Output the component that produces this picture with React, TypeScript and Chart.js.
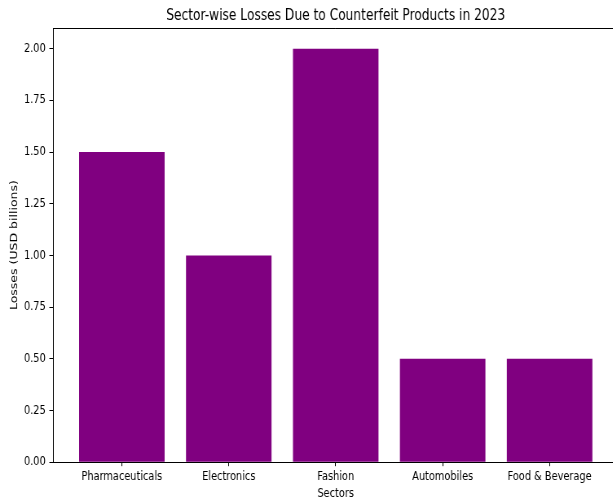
import React, { useEffect, useRef } from "react";
import { Chart, registerables } from "chart.js";

Chart.register(...registerables);

const sectors = ["Pharmaceuticals", "Electronics", "Fashion", "Automobiles", "Food & Beverage"];
const losses = [1.5, 1.0, 2.0, 0.5, 0.5];
const yTickValues = [0, 0.25, 0.5, 0.75, 1.0, 1.25, 1.5, 1.75, 2.0];
const titleText = "Sector-wise Losses Due to Counterfeit Products in 2023";
const xTitle = "Sectors";
const yTitle = "Losses (USD billions)";

const FONT = '"DejaVu Sans", sans-serif';
const SQUEEZE = 0.815;
const CANVAS_W = 780;
const CANVAS_H = 501;

const frame = {
  id: "frame",
  afterDraw(chart: any) {
    const { ctx, chartArea } = chart;
    ctx.save();
    ctx.strokeStyle = "#000";
    ctx.lineWidth = 1;
    ctx.beginPath();
    ctx.moveTo(chartArea.left, Math.round(chartArea.top) + 0.5);
    ctx.lineTo(chartArea.right, Math.round(chartArea.top) + 0.5);
    ctx.moveTo(Math.round(chartArea.right) + 0.5, chartArea.top);
    ctx.lineTo(Math.round(chartArea.right) + 0.5, chartArea.bottom);
    ctx.stroke();
    // title centred over the plot area
    ctx.fillStyle = "#000";
    ctx.font = `15px ${FONT}`;
    ctx.textAlign = "center";
    ctx.textBaseline = "middle";
    ctx.fillText(titleText, (chartArea.left + chartArea.right) / 2, chartArea.top - 12);
    ctx.restore();
  },
};

export default function App() {
  const ref = useRef<HTMLCanvasElement>(null);
  useEffect(() => {
    if (!ref.current) return;
    const chart = new Chart(ref.current, {
      type: "bar",
      data: {
        datasets: [
          {
            data: losses.map((v, i) => ({ x: i, y: v })),
            backgroundColor: "#800080",
            borderWidth: 0,
            categoryPercentage: 1,
            barPercentage: 0.8,
          },
        ],
      },
      options: {
        responsive: false,
        animation: false,
        layout: { padding: { left: 3, right: 21.7, top: 28, bottom: 0 } },
        plugins: {
          legend: { display: false },
          tooltip: { enabled: false },
          title: { display: false },
        },
        scales: {
          x: {
            type: "linear",
            offset: false,
            min: -0.64,
            max: 4.64,
            afterBuildTicks: (scale: any) => {
              scale.ticks = sectors.map((_, i) => ({ value: i }));
            },
            ticks: {
              autoSkip: false,
              maxRotation: 0,
              color: "#000",
              padding: 3,
              font: { family: FONT, size: 12 },
              callback: (v: any) => sectors[v] ?? "",
            },
            grid: { offset: false, drawOnChartArea: false, drawTicks: true, tickLength: 4, color: "#000" },
            border: { color: "#000", width: 1 },
            title: {
              display: true,
              text: xTitle,
              color: "#000",
              font: { family: FONT, size: 12 },
              padding: { top: 0, bottom: 0 },
            },
          },
          y: {
            type: "linear",
            min: 0,
            max: 2.1,
            afterBuildTicks: (scale: any) => {
              scale.ticks = yTickValues.map((v) => ({ value: v }));
            },
            ticks: {
              color: "#000",
              padding: 4.4,
              font: { family: FONT, size: 12 },
              callback: (v: any) => Number(v).toFixed(2),
            },
            grid: { drawOnChartArea: false, drawTicks: true, tickLength: 5, color: "#000" },
            border: { color: "#000", width: 1 },
            title: {
              display: true,
              text: yTitle,
              color: "#000",
              font: { family: FONT, size: 12.5 },
              padding: { top: 7, bottom: 0 },
            },
          },
        },
      },
      plugins: [frame],
    });
    return () => chart.destroy();
  }, []);

  return (
    <div style={{ position: "absolute", left: 0, top: 0, width: 613, height: CANVAS_H, overflow: "hidden", background: "#fff" }}>
      <div style={{ width: CANVAS_W, height: CANVAS_H, transform: `scaleX(${SQUEEZE})`, transformOrigin: "0 0" }}>
        <canvas ref={ref} width={CANVAS_W} height={CANVAS_H} style={{ display: "block" }} />
      </div>
    </div>
  );
}
